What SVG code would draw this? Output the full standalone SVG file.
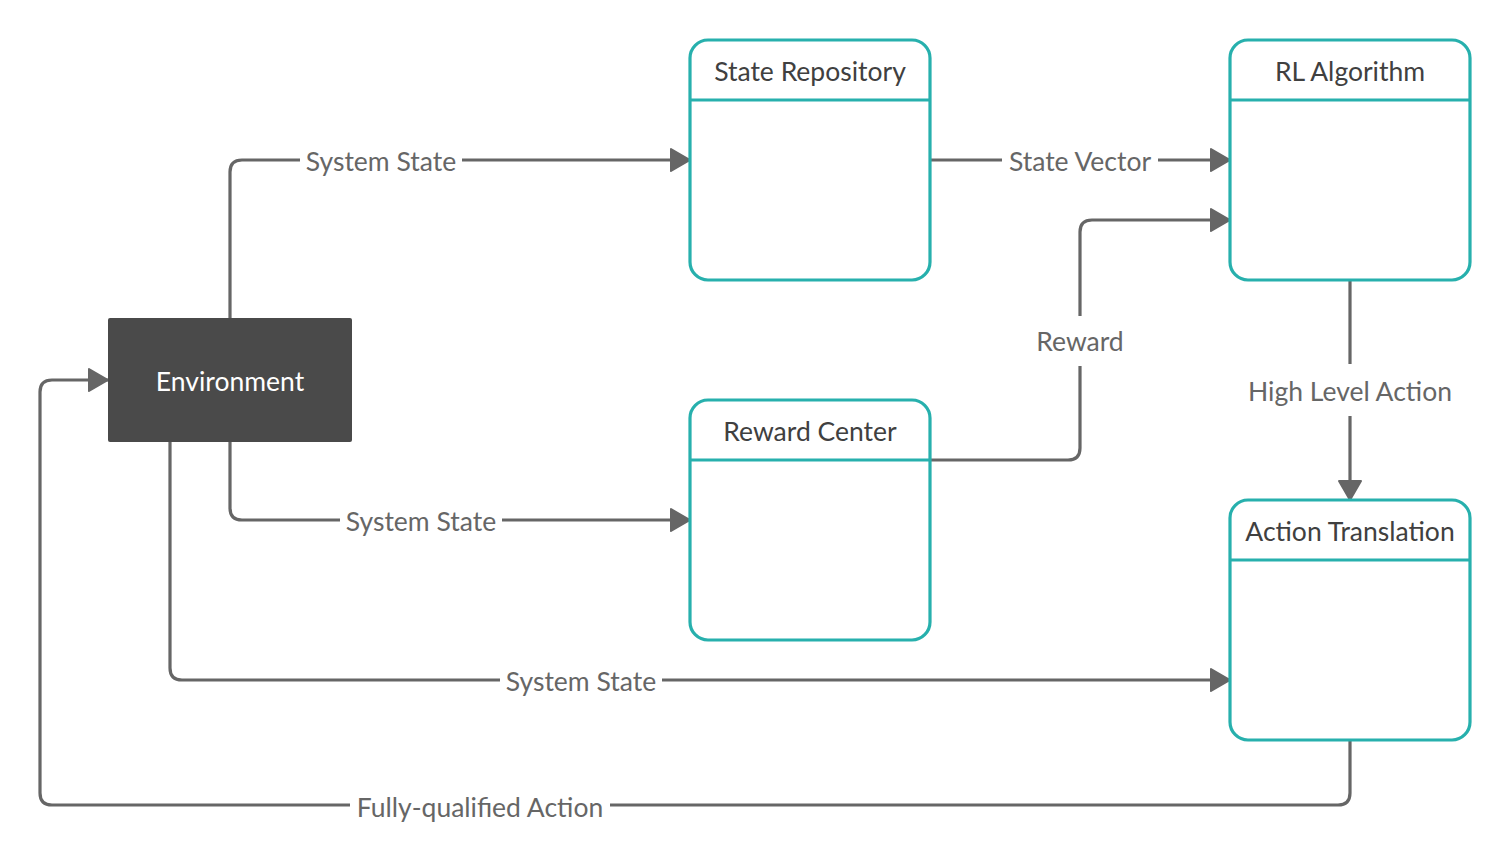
<svg xmlns="http://www.w3.org/2000/svg" width="1510" height="846" viewBox="0 0 1510 846">
<defs>
<marker id="arr" markerUnits="userSpaceOnUse" markerWidth="24" markerHeight="26" refX="21" refY="12" orient="auto">
<path d="M2,1 L21,12 L2,23 z" fill="#666" stroke="#666" stroke-width="2" stroke-linejoin="round"/>
</marker>
<style>
.box{fill:#fff;stroke:#27b0ad;stroke-width:3.2}
.div{stroke:#27b0ad;stroke-width:3.2}
.title{font-family:Lato,"Liberation Sans",sans-serif;font-size:26.5px;fill:#404040;text-anchor:middle}
.conn{fill:none;stroke:#666;stroke-width:3.2}
.lbl{font-family:Lato,"Liberation Sans",sans-serif;font-size:26.5px;fill:#666;text-anchor:middle}
.bg{fill:#fff}
</style>
</defs>
<rect width="1510" height="846" fill="#fff"/>
<g id="connectors">
<path class="conn" d="M230,318 V172 Q230,160 242,160 H690" marker-end="url(#arr)"/>
<path class="conn" d="M230,442 V508 Q230,520 242,520 H690" marker-end="url(#arr)"/>
<path class="conn" d="M170,442 V668 Q170,680 182,680 H1230" marker-end="url(#arr)"/>
<path class="conn" d="M1350,740 V793 Q1350,805 1338,805 H52 Q40,805 40,793 V392 Q40,380 52,380 H108" marker-end="url(#arr)"/>
<path class="conn" d="M930,160 H1230" marker-end="url(#arr)"/>
<path class="conn" d="M930,460 H1068 Q1080,460 1080,448 V232 Q1080,220 1092,220 H1230" marker-end="url(#arr)"/>
<path class="conn" d="M1350,280 V500" marker-end="url(#arr)"/>
<rect class="bg" x="300" y="145" width="162" height="32"/>
<text class="lbl" x="381" y="171">System State</text>
<rect class="bg" x="340" y="505" width="162" height="32"/>
<text class="lbl" x="421" y="531">System State</text>
<rect class="bg" x="500" y="665" width="162" height="32"/>
<text class="lbl" x="581" y="691">System State</text>
<rect class="bg" x="350" y="790" width="260" height="32"/>
<text class="lbl" x="480" y="817">Fully-qualified Action</text>
<rect class="bg" x="1002" y="145" width="156" height="32"/>
<text class="lbl" x="1080" y="171">State Vector</text>
<rect class="bg" x="1030" y="316" width="100" height="50"/>
<text class="lbl" x="1080" y="351">Reward</text>
<rect class="bg" x="1242" y="364" width="216" height="52"/>
<text class="lbl" x="1350" y="401">High Level Action</text>
</g>
<g id="environment">
<rect x="108" y="318" width="244" height="124" rx="2" fill="#4a4a4a"/>
<text class="title" x="230" y="391" style="fill:#fff">Environment</text>
</g>
<g id="state-repository">
<rect class="box" x="690" y="40" width="240" height="240" rx="18"/>
<line class="div" x1="690" y1="100" x2="930" y2="100"/>
<text class="title" x="810" y="81">State Repository</text>
</g>
<g id="rl-algorithm">
<rect class="box" x="1230" y="40" width="240" height="240" rx="18"/>
<line class="div" x1="1230" y1="100" x2="1470" y2="100"/>
<text class="title" x="1350" y="81">RL Algorithm</text>
</g>
<g id="reward-center">
<rect class="box" x="690" y="400" width="240" height="240" rx="18"/>
<line class="div" x1="690" y1="460" x2="930" y2="460"/>
<text class="title" x="810" y="441">Reward Center</text>
</g>
<g id="action-translation">
<rect class="box" x="1230" y="500" width="240" height="240" rx="18"/>
<line class="div" x1="1230" y1="560" x2="1470" y2="560"/>
<text class="title" x="1350" y="541">Action Translation</text>
</g>
</svg>
